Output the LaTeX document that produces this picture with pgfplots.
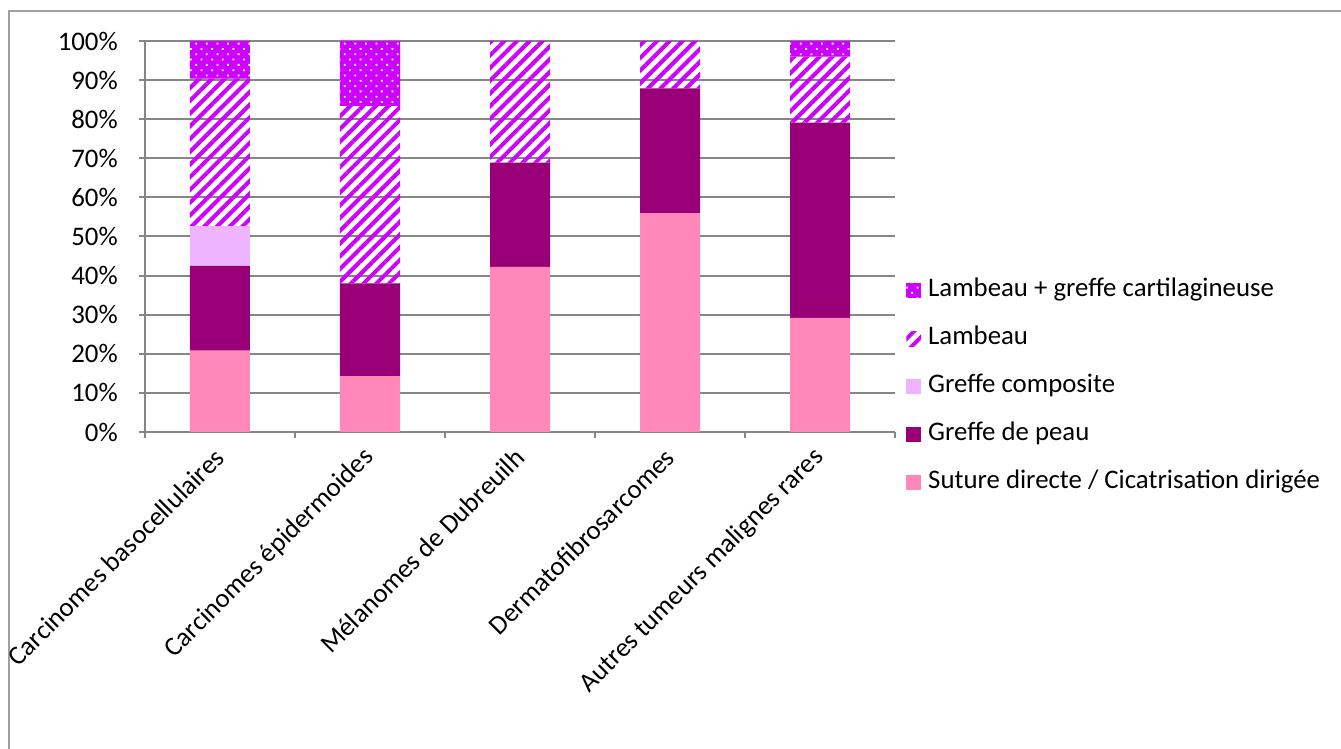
\documentclass[border=0pt]{standalone}
\usepackage{pgfplots}
\pgfplotsset{compat=1.18}
\usetikzlibrary{patterns.meta}
\usepackage{fontspec}
\setmainfont{Carlito}
\definecolor{csuture}{RGB}{255,136,184}
\definecolor{cpeau}{RGB}{153,0,119}
\definecolor{ccomp}{RGB}{238,180,255}
\definecolor{cmag}{RGB}{206,0,255}
\definecolor{cgrid}{RGB}{134,134,134}
\definecolor{cframe}{RGB}{160,160,160}
\begin{document}
\fontsize{13.4pt}{16pt}\selectfont
\begin{tikzpicture}
\useasboundingbox (0,0) rectangle (670.5pt,374.5pt);
\draw[line width=1pt, cframe] (4.5pt,0) -- (4.5pt,369pt) -- (670.5pt,369pt);
\begin{axis}[
  at={(72.5pt,158.5pt)}, anchor=south west,
  scale only axis, width=375pt, height=195.5pt,
  xmin=-0.5, xmax=4.5, ymin=0, ymax=100,
  ybar stacked, bar width=30pt,
  axis x line*=bottom, axis y line*=left,
  axis line style={draw=cgrid, line width=1pt},
  ymajorgrids, grid style={draw=cgrid, line width=1pt},
  tick align=outside, major tick length=3pt,
  tick style={draw=cgrid, line width=1pt},
  ytick={0,10,...,100},
  yticklabels={0\%,10\%,20\%,30\%,40\%,50\%,60\%,70\%,80\%,90\%,100\%},
  xtick={-0.5,0.5,1.5,2.5,3.5,4.5},
  x tick label as interval,
  xticklabels={Carcinomes basocellulaires, Carcinomes épidermoides, Mélanomes de Dubreuilh, Dermatofibrosarcomes, Autres tumeurs malignes rares},
  x tick label style={rotate=45, anchor=east, inner sep=0pt},
  xticklabel shift=7.5pt,
  y tick label style={anchor=east, xshift=-6pt},
  legend style={at={(axis description cs:1.0147,0.116)}, anchor=west, draw=none, fill=none,
    inner sep=0pt, row sep=12pt,
    nodes={inner sep=0pt, text height=9pt, text depth=3pt},
    /tikz/every odd column/.append style={column sep=3.5pt}},
  legend cell align=left,
  reverse legend,
  legend image code/.code={\fill[#1] (0pt,-3.7pt) rectangle (7.4pt,3.7pt);},
]
\addplot[fill=csuture, draw=none] coordinates {(0,20.8) (1,14.3) (2,42.2) (3,56.0) (4,29.2)};
\addlegendentry{Suture directe / Cicatrisation dirigée}
\addplot[fill=cpeau, draw=none] coordinates {(0,21.7) (1,23.7) (2,26.7) (3,31.9) (4,49.9)};
\addlegendentry{Greffe de peau}
\addplot[fill=ccomp, draw=none] coordinates {(0,10.1) (1,0) (2,0) (3,0) (4,0)};
\addlegendentry{Greffe composite}
\addplot[draw=none, pattern={Lines[angle=45,distance=4.5pt,line width=2pt]}, pattern color=cmag] coordinates {(0,37.8) (1,45.4) (2,31.1) (3,12.1) (4,16.9)};
\addlegendentry{Lambeau}
\addplot[draw=none, fill=cmag, postaction={pattern={Dots[angle=45,distance=3.75pt,radius=0.65pt]}, pattern color=white}] coordinates {(0,9.6) (1,16.6) (2,0) (3,0) (4,4.0)};
\addlegendentry{Lambeau + greffe cartilagineuse}
\end{axis}
\end{tikzpicture}
\end{document}
